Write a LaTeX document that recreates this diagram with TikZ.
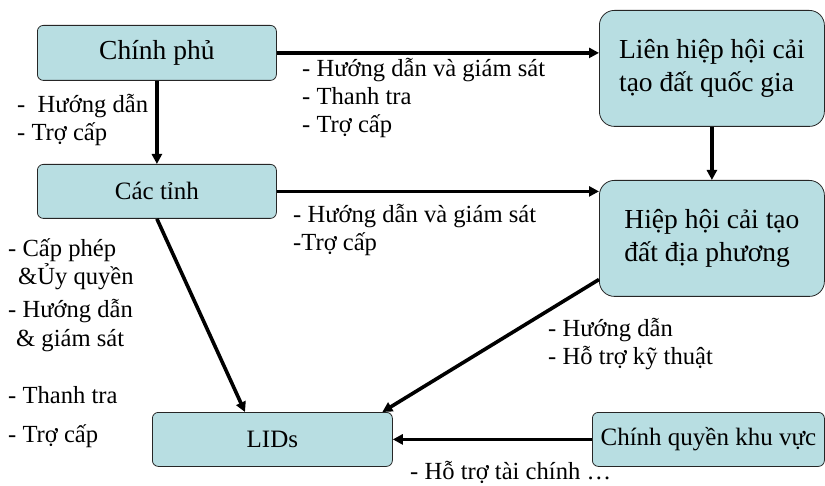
\documentclass[tikz,border=0pt]{standalone}
\usepackage{fontspec}
\setmainfont{Liberation Serif}
\usetikzlibrary{arrows.meta}

\definecolor{boxfill}{RGB}{184,222,226}

\tikzset{
  box/.style={draw=black!85, fill=boxfill, rounded corners=6pt, line width=0.8pt,
    inner sep=0pt, anchor=north west, font=\fontsize{25}{30}\selectfont},
  bigbox/.style={box, rounded corners=15pt, align=left, font=\fontsize{27.5}{33}\selectfont},
  flow/.style={-{Triangle[length=10pt,width=10pt]}, line width=3.6pt},
  lbl/.style={anchor=base west, inner sep=0pt, font=\fontsize{24.6}{28}\selectfont}
}

\begin{document}
\begin{tikzpicture}[x=1pt, y=-1pt]
    \useasboundingbox (0,0) rectangle (825,486);

    % Boxes
    \node[box, minimum width=239pt, minimum height=55pt, font=\fontsize{27.5}{33}\selectfont]
      (gov) at (37,25) {Chính phủ};
    \node[box, minimum width=239pt, minimum height=54pt] (prov) at (37,164) {Các tỉnh};
    \node[bigbox, minimum width=225pt, minimum height=116pt] (natl) at (599,10)
      {Liên hiệp hội cải\\tạo đất quốc gia};
    \node[bigbox, minimum width=225pt, minimum height=116pt] (local) at (599,180)
      {Hiệp hội cải tạo\\đất địa phương};
    \node[box, minimum width=240pt, minimum height=54pt] (lids) at (152,412) {LIDs};
    \node[box, minimum width=232pt, minimum height=54pt] (reg) at (592,412) {Chính quyền khu vực};

    % Arrows
    \draw[flow] (gov.east) -- (gov.east -| natl.west);
    \draw[flow] (gov.south) -- (prov.north);
    \draw[flow] (prov.east) -- (prov.east -| local.west);
    \draw[flow] (natl.south) -- (local.north);
    \draw[flow] (prov.south) -- (lids.135);
    \draw[flow] (local.200) -- (lids.14);
    \draw[flow] (reg.west) -- (lids.east);

    % Labels
    \node[lbl] (gl1) at (17,113) {-\ \ Hướng dẫn};
    \node[lbl] (gl2) at (17,141) {- Trợ cấp};
    \foreach \t [count=\i] in {- Hướng dẫn và giám sát, - Thanh tra, - Trợ cấp}
      \node[lbl] (gn\i) at (302,49+28*\i) {\t};
    \node[lbl] (pl1) at (293,223) {- Hướng dẫn và giám sát};
    \node[lbl] (pl2) at (293,251) {-Trợ cấp};
    \node[lbl] (ll1) at (8,257) {- Cấp phép};
    \node[lbl] (ll2) at (18,285) {\&Ủy quyền};
    \node[lbl] (ll3) at (8,318) {- Hướng dẫn};
    \node[lbl] (ll4) at (16,347) {\& giám sát};
    \node[lbl] (ll5) at (8,403) {- Thanh tra};
    \node[lbl] (ll6) at (8,442) {- Trợ cấp};
    \node[lbl] (dl1) at (548,337) {- Hướng dẫn};
    \node[lbl] (dl2) at (548,365) {- Hỗ trợ kỹ thuật};
    \node[lbl] (rl1) at (410,479) {- Hỗ trợ tài chính …};
\end{tikzpicture}
\end{document}
